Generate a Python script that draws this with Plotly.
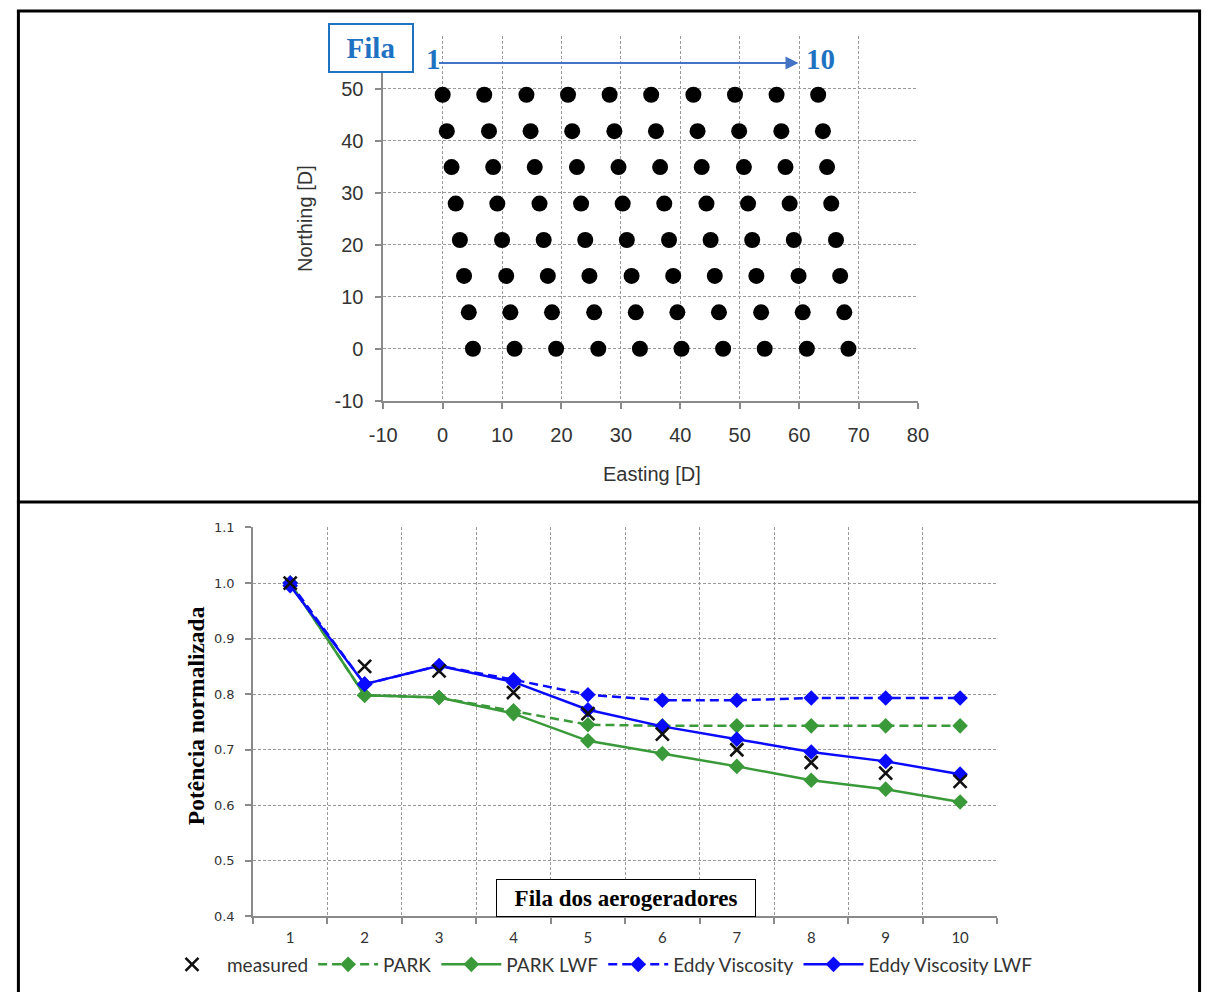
import plotly.graph_objects as go

# ---------------- Layout data: turbine positions (Horns Rev, in rotor diameters) ----------------
row_northing = [0.0, 7.0, 14.0, 20.9, 27.9, 34.9, 41.8, 48.8]
row_easting = [
    [5.1, 12.1, 19.1, 26.2, 33.2, 40.2, 47.2, 54.2, 61.3, 68.3],
    [4.4, 11.4, 18.4, 25.5, 32.5, 39.5, 46.5, 53.6, 60.6, 67.6],
    [3.6, 10.7, 17.7, 24.7, 31.8, 38.8, 45.8, 52.8, 59.9, 66.9],
    [2.9, 10.0, 17.0, 24.0, 31.0, 38.1, 45.1, 52.1, 59.1, 66.2],
    [2.2, 9.2, 16.3, 23.3, 30.3, 37.3, 44.4, 51.4, 58.4, 65.4],
    [1.5, 8.5, 15.5, 22.6, 29.6, 36.6, 43.6, 50.7, 57.7, 64.7],
    [0.7, 7.8, 14.8, 21.8, 28.9, 35.9, 42.9, 49.9, 57.0, 64.0],
    [0.0, 7.0, 14.1, 21.1, 28.1, 35.1, 42.2, 49.2, 56.2, 63.2],
]
easting_ticks = [-10, 0, 10, 20, 30, 40, 50, 60, 70, 80]
easting_labels = ["-10", "0", "10", "20", "30", "40", "50", "60", "70", "80"]
northing_ticks = [-10, 0, 10, 20, 30, 40, 50, 60]
northing_labels = ["-10", "0", "10", "20", "30", "40", "50", ""]

# ---------------- Normalised power per turbine row ----------------
rows = [1, 2, 3, 4, 5, 6, 7, 8, 9, 10]
measured = [1.000, 0.850, 0.842, 0.803, 0.765, 0.728, 0.700, 0.677, 0.658, 0.643]
park = [1.000, 0.798, 0.794, 0.770, 0.745, 0.743, 0.743, 0.743, 0.743, 0.743]
park_lwf = [1.000, 0.798, 0.794, 0.765, 0.716, 0.693, 0.670, 0.645, 0.629, 0.606]
eddy = [1.000, 0.818, 0.851, 0.826, 0.799, 0.789, 0.789, 0.793, 0.793, 0.793]
eddy_lwf = [0.995, 0.818, 0.851, 0.822, 0.772, 0.742, 0.719, 0.696, 0.679, 0.656]
power_ticks = [0.4, 0.5, 0.6, 0.7, 0.8, 0.9, 1.0, 1.1]

W, H = 1214, 1003


def px(x):
    return x / W


def py(y):
    return 1 - y / H


GREEN = "#3a9a3a"
BLUE = "#0a0aff"
GRID = "#9a9a9a"
AXIS = "#8a8a8a"
FILA_BLUE = "#1f72c2"
SERIF = "Liberation Serif, Times New Roman, serif"
SANS = "Liberation Sans, Arial, sans-serif"
MODEL_DASH = "9px,5px"

fig = go.Figure()

# turbine layout
xs, ys = [], []
for n, east in zip(row_northing, row_easting):
    xs.extend(east)
    ys.extend([n] * len(east))
fig.add_trace(go.Scatter(
    x=xs, y=ys, mode="markers", xaxis="x", yaxis="y",
    marker=dict(color="black", size=16, symbol="circle"),
    showlegend=False, hoverinfo="skip",
))

# power curves
fig.add_trace(go.Scatter(
    x=rows, y=park, name="PARK", mode="lines+markers", xaxis="x2", yaxis="y2",
    line=dict(color=GREEN, width=2.5, dash=MODEL_DASH),
    marker=dict(symbol="diamond", size=12, color=GREEN), legendrank=2,
))
fig.add_trace(go.Scatter(
    x=rows, y=park_lwf, name="PARK LWF", mode="lines+markers", xaxis="x2", yaxis="y2",
    line=dict(color=GREEN, width=2.5),
    marker=dict(symbol="diamond", size=12, color=GREEN), legendrank=3,
))
fig.add_trace(go.Scatter(
    x=rows, y=eddy, name="Eddy Viscosity", mode="lines+markers", xaxis="x2", yaxis="y2",
    line=dict(color=BLUE, width=2.5, dash=MODEL_DASH),
    marker=dict(symbol="diamond", size=12, color=BLUE), legendrank=4,
))
fig.add_trace(go.Scatter(
    x=rows, y=eddy_lwf, name="Eddy Viscosity LWF", mode="lines+markers", xaxis="x2", yaxis="y2",
    line=dict(color=BLUE, width=2.5),
    marker=dict(symbol="diamond", size=12, color=BLUE), legendrank=5,
))
fig.add_trace(go.Scatter(
    x=rows, y=measured, name="measured", mode="markers", xaxis="x2", yaxis="y2",
    marker=dict(symbol="x-thin", size=13, color="black", line=dict(color="#111111", width=2.6)),
    legendrank=1,
))

tick_font_top = dict(family=SANS, size=20, color="#333333")
grid_common = dict(showgrid=True, gridcolor=GRID, griddash="3px,2px", gridwidth=1,
                   zeroline=False, showline=True, linecolor=AXIS, linewidth=1.5,
                   ticks="outside", ticklen=6, tickcolor=AXIS, tickwidth=1.5)

row_bounds = [r - 0.5 for r in rows] + [rows[-1] + 0.5]

fig.update_layout(
    width=W, height=H,
    margin=dict(l=0, r=0, t=0, b=0),
    paper_bgcolor="white", plot_bgcolor="white",
    xaxis=dict(domain=[px(377), px(923)], anchor="y", range=[-10, 80],
               tickvals=easting_ticks, ticktext=easting_labels,
               tickfont=tick_font_top, ticklabelstandoff=9, **grid_common),
    yaxis=dict(domain=[py(401), py(30)], anchor="x", range=[-10, 60],
               tickvals=northing_ticks, ticktext=northing_labels,
               tickfont=tick_font_top, ticklabelstandoff=8, **grid_common),
    xaxis2=dict(domain=[px(244), px(1004)], anchor="y2", range=[0.5, 10.5],
                tickvals=rows, ticks="", showgrid=False, zeroline=False,
                showline=True, linecolor=AXIS, linewidth=1.5,
                tickfont=dict(family="Lato, sans-serif", size=15, color="#333333"),
                ticklabelstandoff=7,
                minor=dict(tickvals=row_bounds, ticks="outside", ticklen=6,
                           tickcolor=AXIS, tickwidth=1.5, showgrid=True,
                           gridcolor=GRID, griddash="3px,2px", gridwidth=1)),
    yaxis2=dict(domain=[py(926), py(530)], anchor="x2", range=[0.4, 1.1],
                tickvals=power_ticks, tickformat=".1f",
                tickfont=dict(family="DejaVu Sans, Verdana, sans-serif", size=13, color="#333333"),
                ticklabelstandoff=8, **grid_common),
    legend=dict(orientation="h", x=px(146), y=py(975), xanchor="left", yanchor="middle",
                font=dict(family="Lato, sans-serif", size=19, color="#333333"),
                bgcolor="rgba(0,0,0,0)", itemwidth=60, traceorder="normal"),
    showlegend=True,
)


def label(text, x, y, font, **kw):
    fig.add_annotation(text=text, x=px(x), y=py(y), xref="paper", yref="paper",
                       xanchor="center", yanchor="middle", showarrow=False,
                       font=font, **kw)


# axis titles and labels
label("Northing [D]", 297, 215, dict(family=SANS, size=20, color="#333333"), textangle=-90)
label("Easting [D]", 651, 476, dict(family=SANS, size=20, color="#333333"))
label("<b>Potência normalizada</b>", 186, 722, dict(family=SERIF, size=23.5, color="black"),
      textangle=-90)
label("<b>Fila dos aerogeradores</b>", 624.5, 907.5, dict(family=SERIF, size=23, color="black"),
      bgcolor="white", bordercolor="black", borderwidth=1, borderpad=0, width=258, height=36)

# row direction marker over the layout
label("<b>Fila</b>", 364, 42, dict(family=SERIF, size=29, color=FILA_BLUE),
      bgcolor="white", bordercolor=FILA_BLUE, borderwidth=2, borderpad=0, width=82, height=46)
label("<b>1</b>", 428, 53, dict(family=SERIF, size=29, color=FILA_BLUE))
label("<b>10</b>", 823, 53, dict(family=SERIF, size=29, color=FILA_BLUE))
fig.add_annotation(text="", x=px(801), y=py(57), xref="paper", yref="paper",
                   ax=440 - 801, ay=0,
                   showarrow=True, arrowhead=2, arrowsize=1.3, arrowwidth=2, arrowcolor="#4472c4")

# table frame around the two panels
frame = dict(color="black", width=3)
fig.add_shape(type="line", xref="paper", yref="paper", x0=px(3), x1=px(1212), y0=py(4), y1=py(4), line=frame)
fig.add_shape(type="line", xref="paper", yref="paper", x0=px(4.5), x1=px(4.5), y0=py(3), y1=py(1003), line=frame)
fig.add_shape(type="line", xref="paper", yref="paper", x0=px(1210.5), x1=px(1210.5), y0=py(3), y1=py(1003), line=frame)
fig.add_shape(type="line", xref="paper", yref="paper", x0=px(3), x1=px(1212), y0=py(504), y1=py(504), line=frame)

fig.write_html("out.html",
               post_script="document.body.style.margin='0';document.body.style.overflow='hidden';")
